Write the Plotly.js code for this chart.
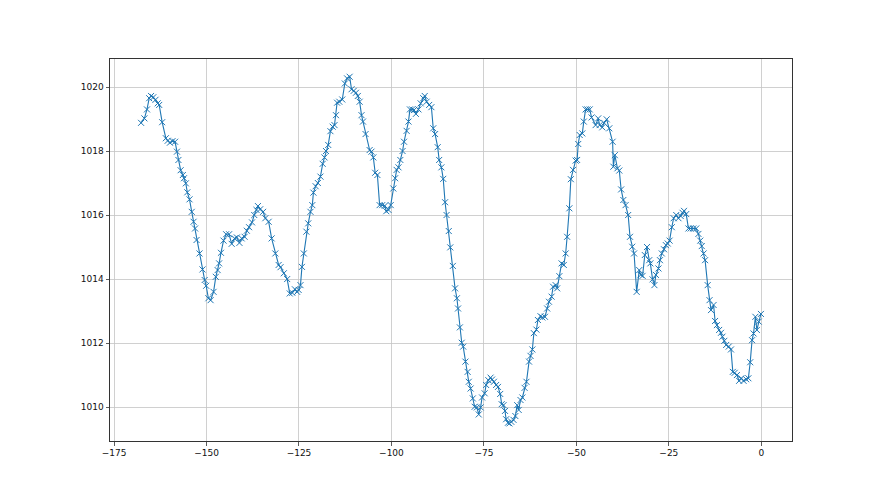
<!DOCTYPE html>
<html>
<head>
<meta charset="utf-8">
<script src="https://cdn.plot.ly/plotly-3.0.1.min.js"></script>
<style>html,body{margin:0;padding:0;background:#fff;}#chart{width:880px;height:495px;}</style>
</head>
<body>
<div id="chart"></div>
<script>
const hours = [
-167.7,-166.8,-166.1,-165.5,-165.0,-164.4,-163.8,-163.2,-162.8,-162.0,
-161.0,-160.5,-159.9,-159.2,-158.5,-158.0,-157.6,-157.0,-156.4,-156.1,
-155.6,-155.2,-154.6,-154.0,-153.5,-153.1,-152.7,-151.9,-151.1,-150.5,
-150.1,-149.5,-148.9,-148.1,-147.5,-147.0,-146.6,-146.1,-145.4,-144.7,
-143.9,-143.2,-142.4,-141.8,-141.1,-140.5,-139.7,-139.1,-138.5,-137.7,
-137.1,-136.5,-136.1,-135.5,-134.7,-134.1,-133.2,-132.4,-131.4,-130.5,
-130.0,-129.1,-128.2,-127.5,-126.8,-126.1,-125.5,-125.1,-124.6,-124.2,
-123.7,-123.0,-122.5,-121.9,-121.4,-121.1,-120.5,-119.9,-119.2,-118.6,
-118.1,-117.7,-117.1,-116.5,-115.9,-115.4,-115.0,-114.7,-114.1,-113.3,
-112.6,-112.0,-111.3,-110.8,-110.2,-109.6,-109.1,-108.6,-108.1,-107.7,
-107.0,-105.9,-105.4,-104.9,-104.4,-103.8,-103.2,-102.5,-101.8,-101.4,
-100.8,-100.2,-99.5,-99.0,-98.6,-98.1,-97.6,-97.0,-96.6,-95.9,
-95.4,-95.0,-94.4,-93.9,-93.4,-92.7,-92.1,-91.4,-91.0,-90.5,
-89.8,-89.2,-88.7,-88.2,-87.5,-87.1,-86.5,-86.0,-85.5,-85.1,
-84.5,-84.1,-83.4,-82.8,-82.3,-82.0,-81.5,-81.0,-80.6,-80.0,
-79.4,-79.1,-78.6,-78.0,-77.5,-76.9,-76.4,-75.9,-75.5,-74.8,
-74.4,-73.8,-73.2,-72.8,-72.3,-71.7,-71.2,-70.6,-70.2,-69.7,
-69.3,-69.0,-68.5,-68.1,-67.6,-67.0,-66.5,-66.0,-65.6,-65.1,
-64.6,-64.0,-63.5,-62.8,-62.4,-61.9,-61.5,-60.8,-60.4,-59.7,
-59.2,-58.5,-57.9,-57.4,-56.7,-56.3,-55.6,-55.2,-54.6,-54.0,
-53.4,-52.9,-52.5,-51.9,-51.5,-50.9,-50.2,-49.8,-49.5,-49.1,
-48.4,-48.0,-47.5,-47.0,-46.4,-45.9,-44.8,-44.1,-43.7,-43.0,
-42.5,-41.8,-41.1,-40.2,-40.0,-39.6,-38.9,-38.4,-37.9,-37.3,
-36.7,-36.0,-35.5,-34.9,-34.4,-33.7,-33.0,-32.6,-32.1,-31.5,
-30.9,-30.3,-30.0,-29.4,-28.9,-28.5,-27.8,-27.4,-26.9,-26.3,
-25.8,-25.3,-24.8,-24.2,-23.7,-23.0,-22.4,-21.8,-21.3,-20.9,
-20.3,-19.7,-19.1,-18.4,-17.6,-17.0,-16.5,-16.1,-15.6,-15.2,
-14.5,-14.0,-13.6,-12.9,-12.5,-12.0,-11.4,-10.9,-10.5,-10.0,
-9.5,-8.8,-8.2,-7.7,-7.2,-6.6,-6.0,-5.4,-4.8,-4.1,
-3.5,-3.0,-2.5,-2.1,-1.6,-1.2,-0.7,-0.1
];
const pressure = [
1018.88,1019.02,1019.30,1019.65,1019.72,1019.68,1019.60,1019.49,1019.44,1018.90,
1018.40,1018.32,1018.26,1018.31,1018.29,1017.98,1017.72,1017.40,1017.25,1017.15,
1016.99,1016.71,1016.49,1016.10,1015.79,1015.58,1015.22,1014.80,1014.30,1013.97,
1013.79,1013.40,1013.34,1013.60,1014.07,1014.28,1014.49,1014.82,1015.20,1015.40,
1015.40,1015.10,1015.27,1015.30,1015.13,1015.27,1015.32,1015.51,1015.62,1015.77,
1016.00,1016.16,1016.28,1016.18,1016.10,1015.90,1015.79,1015.27,1014.80,1014.44,
1014.37,1014.18,1014.00,1013.55,1013.57,1013.68,1013.60,1013.66,1013.81,1014.38,
1014.80,1015.48,1015.74,1016.10,1016.31,1016.70,1016.90,1017.00,1017.20,1017.60,
1017.80,1018.00,1018.19,1018.62,1018.76,1018.81,1019.12,1019.51,1019.54,1019.61,
1020.11,1020.27,1020.32,1019.93,1019.88,1019.82,1019.72,1019.54,1019.12,1018.92,
1018.53,1018.03,1017.98,1017.80,1017.32,1017.25,1016.31,1016.31,1016.29,1016.12,
1016.16,1016.31,1016.83,1017.15,1017.41,1017.49,1017.72,1018.00,1018.29,1018.63,
1018.92,1019.30,1019.30,1019.28,1019.16,1019.30,1019.49,1019.65,1019.72,1019.54,
1019.44,1019.37,1018.71,1018.53,1018.12,1017.72,1017.49,1017.13,1016.40,1016.00,
1015.50,1014.99,1014.41,1013.71,1013.40,1013.08,1012.49,1012.01,1011.89,1011.42,
1011.10,1010.79,1010.58,1010.27,1010.01,1009.99,1009.77,1009.99,1010.30,1010.43,
1010.69,1010.84,1010.92,1010.86,1010.79,1010.69,1010.63,1010.41,1010.09,1010.06,
1009.88,1009.62,1009.51,1009.49,1009.54,1009.60,1009.72,1010.06,1009.91,1010.22,
1010.30,1010.60,1010.79,1011.42,1011.60,1011.80,1012.31,1012.42,1012.72,1012.84,
1012.80,1012.82,1013.08,1013.29,1013.45,1013.76,1013.81,1013.71,1014.09,1014.49,
1014.44,1014.80,1015.32,1016.21,1017.12,1017.41,1017.70,1017.72,1018.22,1018.50,
1018.55,1018.92,1019.30,1019.30,1019.30,1019.05,1018.81,1019.02,1018.81,1018.74,
1018.88,1018.99,1018.71,1018.29,1017.51,1017.87,1017.46,1017.39,1016.80,1016.47,
1016.31,1016.00,1015.32,1015.01,1014.80,1013.60,1014.28,1014.13,1014.10,1014.75,
1015.00,1014.59,1014.49,1013.99,1013.81,1014.13,1014.33,1014.59,1014.80,1014.93,
1015.06,1015.11,1015.20,1015.62,1015.90,1016.00,1015.90,1015.97,1016.07,1016.13,
1016.03,1015.58,1015.58,1015.58,1015.58,1015.41,1015.20,1015.03,1014.80,1014.59,
1013.81,1013.34,1013.03,1013.19,1012.69,1012.56,1012.41,1012.32,1012.20,1012.07,
1011.94,1011.89,1011.80,1011.10,1011.07,1011.00,1010.82,1010.90,1010.82,1010.87,
1010.90,1011.40,1012.09,1012.30,1012.82,1012.41,1012.67,1012.91
];
const xTicks = [-175, -150, -125, -100, -75, -50, -25, 0];
const yTicks = [1010, 1012, 1014, 1016, 1018, 1020];

const trace = {
  x: hours, y: pressure, type: 'scatter', mode: 'lines+markers',
  line: {color: '#1f77b4', width: 1.1},
  marker: {symbol: 'x-thin-open', size: 6, color: '#1f77b4', line: {color: '#3a8ac4', width: 1}},
  showlegend: false, hoverinfo: 'skip'
};
const axisCommon = {
  showline: true, mirror: true, linecolor: '#333', linewidth: 1,
  showgrid: true, gridcolor: '#c4c4c4', gridwidth: 0.8,
  zeroline: false, ticks: 'outside', ticklen: 3.5, tickwidth: 0.8, tickcolor: '#333',
  tickfont: {family: 'DejaVu Sans', size: 9, color: '#111'}
};
const layout = {
  width: 880, height: 495,
  margin: {l: 110, r: 88, t: 59, b: 54},
  paper_bgcolor: '#fff', plot_bgcolor: '#fff',
  xaxis: Object.assign({}, axisCommon, {range: [-176.1, 8.3], tickmode: 'array', tickvals: xTicks, ticktext: xTicks.map(v => v < 0 ? '\u2212' + Math.abs(v) : String(v))}),
  yaxis: Object.assign({}, axisCommon, {range: [1008.94, 1020.875], tickmode: 'array', tickvals: yTicks, ticktext: yTicks.map(String)})
};
Plotly.newPlot('chart', [trace], layout, {displayModeBar: false, staticPlot: true});
</script>
</body>
</html>
